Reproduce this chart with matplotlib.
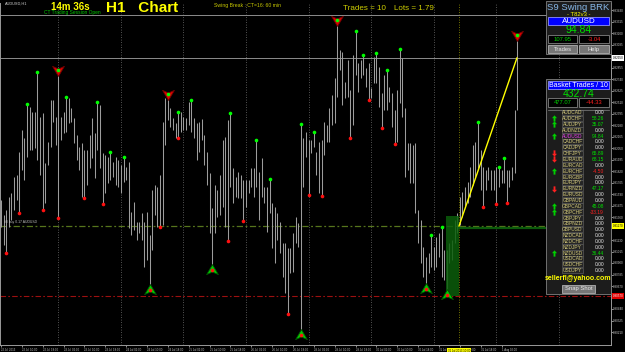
import matplotlib
matplotlib.use("Agg")
import matplotlib.pyplot as plt
import numpy as np
from matplotlib.path import Path
from matplotlib.patches import Rectangle

plt.rcParams['font.family'] = ['Liberation Sans', 'DejaVu Sans']

# AUDUSD H1 bars (high / low), 22 Jul - 1 Aug 2013
high = [0.9153, 0.9138, 0.9143, 0.9156, 0.9160, 0.9176, 0.9178, 0.9201, 0.9223, 0.9215,
        0.9249, 0.9246, 0.9241, 0.9241, 0.9281, 0.9236, 0.9240, 0.9190, 0.9211, 0.9253,
        0.9253, 0.9236, 0.9283, 0.9236, 0.9241, 0.9256, 0.9255, 0.9245, 0.9235, 0.9218,
        0.9206, 0.9210, 0.9203, 0.9203, 0.9218, 0.9235, 0.9220, 0.9251, 0.9248, 0.9200,
        0.9198, 0.9196, 0.9201, 0.9191, 0.9196, 0.9193, 0.9188, 0.9196, 0.9186, 0.9191,
        0.9141, 0.9151, 0.9131, 0.9131, 0.9140, 0.9131, 0.9141, 0.9118, 0.9163, 0.9168,
        0.9166, 0.9178, 0.9231, 0.9255, 0.9259, 0.9245, 0.9235, 0.9230, 0.9241, 0.9241,
        0.9236, 0.9235, 0.9251, 0.9253, 0.9235, 0.9230, 0.9231, 0.9234, 0.9218, 0.9201,
        0.9180, 0.9145, 0.9168, 0.9163, 0.9178, 0.9213, 0.9216, 0.9233, 0.9240, 0.9185,
        0.9176, 0.9181, 0.9178, 0.9173, 0.9173, 0.9173, 0.9185, 0.9185, 0.9213, 0.9181,
        0.9195, 0.9166, 0.9166, 0.9174, 0.9150, 0.9146, 0.9140, 0.9131, 0.9110, 0.9110,
        0.9105, 0.9105, 0.9120, 0.9136, 0.9130, 0.9229, 0.9215, 0.9221, 0.9213, 0.9213,
        0.9221, 0.9201, 0.9211, 0.9213, 0.9231, 0.9228, 0.9245, 0.9258, 0.9275, 0.9333,
        0.9303, 0.9301, 0.9271, 0.9293, 0.9263, 0.9298, 0.9322, 0.9290, 0.9293, 0.9298,
        0.9285, 0.9290, 0.9265, 0.9296, 0.9300, 0.9286, 0.9260, 0.9278, 0.9283, 0.9266,
        0.9260, 0.9243, 0.9263, 0.9304, 0.9295, 0.9245, 0.9210, 0.9210, 0.9208, 0.9210,
        0.9143, 0.9133, 0.9106, 0.9096, 0.9100, 0.9118, 0.9106, 0.9116, 0.9120, 0.9126,
        0.9103, 0.9103, 0.9110, 0.9113, 0.9133, 0.9140, 0.9156, 0.9161, 0.9166, 0.9171,
        0.9186, 0.9208, 0.9211, 0.9231, 0.9203, 0.9186, 0.9183, 0.9186, 0.9183, 0.9183,
        0.9186, 0.9186, 0.9183, 0.9195, 0.9183, 0.9183, 0.9186, 0.9243, 0.9318]
low = [0.9126, 0.9108, 0.9100, 0.9126, 0.9133, 0.9143, 0.9153, 0.9140, 0.9183, 0.9173,
       0.9196, 0.9203, 0.9203, 0.9205, 0.9193, 0.9178, 0.9143, 0.9150, 0.9188, 0.9206,
       0.9231, 0.9208, 0.9135, 0.9213, 0.9220, 0.9221, 0.9230, 0.9231, 0.9210, 0.9193,
       0.9183, 0.9156, 0.9155, 0.9168, 0.9185, 0.9195, 0.9175, 0.9203, 0.9185, 0.9149,
       0.9160, 0.9170, 0.9173, 0.9176, 0.9168, 0.9166, 0.9160, 0.9171, 0.9173, 0.9125,
       0.9118, 0.9123, 0.9113, 0.9120, 0.9113, 0.9086, 0.9093, 0.9063, 0.9103, 0.9138,
       0.9126, 0.9126, 0.9128, 0.9208, 0.9233, 0.9226, 0.9223, 0.9215, 0.9215, 0.9221,
       0.9223, 0.9223, 0.9228, 0.9221, 0.9215, 0.9193, 0.9201, 0.9213, 0.9188, 0.9168,
       0.9120, 0.9083, 0.9120, 0.9136, 0.9138, 0.9146, 0.9126, 0.9112, 0.9166, 0.9150,
       0.9156, 0.9155, 0.9155, 0.9132, 0.9146, 0.9160, 0.9166, 0.9156, 0.9166, 0.9133,
       0.9156, 0.9150, 0.9121, 0.9140, 0.9105, 0.9090, 0.9113, 0.9100, 0.9076, 0.9060,
       0.9039, 0.9080, 0.9081, 0.9110, 0.9106, 0.9018, 0.9166, 0.9196, 0.9158, 0.9200,
       0.9206, 0.9178, 0.9160, 0.9157, 0.9198, 0.9211, 0.9211, 0.9228, 0.9230, 0.9256,
       0.9283, 0.9248, 0.9255, 0.9256, 0.9215, 0.9228, 0.9278, 0.9261, 0.9275, 0.9278,
       0.9266, 0.9253, 0.9255, 0.9270, 0.9270, 0.9246, 0.9225, 0.9243, 0.9243, 0.9251,
       0.9226, 0.9209, 0.9211, 0.9250, 0.9236, 0.9176, 0.9183, 0.9170, 0.9170, 0.9140,
       0.9110, 0.9090, 0.9076, 0.9064, 0.9080, 0.9086, 0.9083, 0.9086, 0.9096, 0.9076,
       0.9073, 0.9058, 0.9090, 0.9093, 0.9110, 0.9120, 0.9128, 0.9136, 0.9146, 0.9150,
       0.9156, 0.9168, 0.9175, 0.9185, 0.9163, 0.9146, 0.9163, 0.9173, 0.9163, 0.9163,
       0.9149, 0.9166, 0.9170, 0.9170, 0.9150, 0.9166, 0.9173, 0.9180, 0.9243]

swing_high_bars = [10, 14, 22, 25, 37, 42, 47, 64, 68, 73, 88, 98, 103, 115, 120, 129,
                   136, 139, 144, 148, 153, 165, 169, 183, 191, 193, 198]
swing_low_bars = [2, 7, 16, 22, 32, 39, 57, 61, 68, 81, 87, 93, 110, 115, 118, 123, 134,
                  141, 146, 151, 163, 171, 185, 190, 194]
sell_arrow_bars = [22, 64, 129, 198]
buy_arrow_bars = [57, 81, 115, 163, 171]

time_labels = ['22 Jul 2013', '22 Jul 10:00', '22 Jul 18:00', '23 Jul 02:00', '23 Jul 10:00',
               '23 Jul 18:00', '24 Jul 02:00', '24 Jul 10:00', '24 Jul 18:00', '25 Jul 02:00',
               '25 Jul 10:00', '25 Jul 18:00', '26 Jul 02:00', '26 Jul 10:00', '26 Jul 18:00',
               '29 Jul 02:00', '29 Jul 10:00', '29 Jul 18:00', '30 Jul 02:00', '30 Jul 10:00',
               '30 Jul 18:00', '31 Jul 02:00', '31 Jul 10:00', '31 Jul 18:00', '1 Aug 02:00']

entry_price = 0.9127
stop_price = 0.9057
target_price = 0.9295
upper_line = 0.9338
box_top = 0.9137
box_start = 170.7
trade_bar = 175.7
target_bar = 197.9

pairs = ['AUDCAD', 'AUDCHF', 'AUDJPY', 'AUDNZD', 'AUDUSD', 'CADCHF', 'CADJPY', 'CHFJPY',
         'EURAUD', 'EURCAD', 'EURCHF', 'EURGBP', 'EURJPY', 'EURNZD', 'EURUSD', 'GBPAUD',
         'GBPCAD', 'GBPCHF', 'GBPJPY', 'GBPNZD', 'GBPUSD', 'NZDCAD', 'NZDCHF', 'NZDJPY',
         'NZDUSD', 'USDCAD', 'USDCHF', 'USDJPY']
pair_pl = [0.00, 58.26, 35.07, 0.00, 94.84, 0.00, 0.00, 65.89, 68.15, 0.00, -4.50, 0.00,
           0.00, 47.17, 0.00, 0.00, 45.08, -33.19, 0.00, 0.00, 0.00, 0.00, 0.00, 0.00,
           36.44, 0.00, 0.00, 0.00]
pair_signal = [0, 1, 1, 0, 1, 0, 0, -1, -1, 0, 1, 0, 0, -1, 0, 0, 1, 1, 0, 0, 0, 0, 0, 0,
               1, 0, 0, 0]

W, H = 625, 352
fig = plt.figure(figsize=(W / 100, H / 100), dpi=100, facecolor='black')
ax = fig.add_axes([0, 7 / H, 611 / W, 342 / H])
ax.set_facecolor('black')

n = len(high)
x = np.arange(n)
ax.set_xlim(-0.384, 234.0)
ax.set_ylim(0.9008, 0.9350)

# grid (one line per day)
for g in range(22, 234, 24):
    ax.axvline(g, color='#707070', lw=0.6, ls=(0, (1, 2)), zorder=1)
ax.axvline(trade_bar, color='#9a9a00', lw=0.6, ls=(0, (1, 2)), zorder=1)

ax.axhline(upper_line, color='#8c8c8c', lw=0.7, zorder=1)
ax.axhline(target_price, color='#8c8c8c', lw=0.7, zorder=1)
ax.axhline(entry_price, color='#56751c', lw=0.9, ls=(0, (5, 2, 1.5, 2)), zorder=1)
ax.axhline(stop_price, color='#9c1010', lw=0.8, ls=(0, (5, 2, 1.5, 2)), zorder=1)
ax.plot([trade_bar, 209], [entry_price - 0.00015] * 2, color='#0b5a0b', lw=1.6, zorder=2)

ax.vlines(x, low, high, color='#9c9c9c', lw=0.75, zorder=3)

ax.add_patch(Rectangle((box_start, stop_price), trade_bar - box_start, box_top - stop_price,
                       facecolor='#0b5e0b', alpha=0.85, lw=0, zorder=4))
ax.plot([trade_bar, target_bar], [entry_price, target_price], color='#ffff00',
        lw=1.0, zorder=5)

buy_path = Path([(0, 1), (1, -0.7), (0, -0.25), (-1, -0.7), (0, 1)],
                [Path.MOVETO, Path.LINETO, Path.LINETO, Path.LINETO, Path.CLOSEPOLY])
sell_path = Path([(0, -1), (1, 0.7), (0, 0.25), (-1, 0.7), (0, -1)],
                 [Path.MOVETO, Path.LINETO, Path.LINETO, Path.LINETO, Path.CLOSEPOLY])
ax.plot(buy_arrow_bars, [low[i] for i in buy_arrow_bars], ls='none', marker=buy_path,
        ms=8.5, mfc='#00d000', mec='#005000', mew=0.6, zorder=6)
ax.plot(sell_arrow_bars, [high[i] for i in sell_arrow_bars], ls='none', marker=sell_path,
        ms=8.5, mfc='#e00000', mec='#700000', mew=0.6, zorder=6)
ax.plot(swing_high_bars, [high[i] for i in swing_high_bars], 'o', color='#00ff00', ms=2.6,
        mew=0, zorder=7)
ax.plot(swing_low_bars, [low[i] for i in swing_low_bars], 'o', color='#ff1010', ms=2.6,
        mew=0, zorder=7)

# axes frame and scales
ax.spines['top'].set_visible(False)
for s in ['left', 'bottom', 'right']:
    ax.spines[s].set_color('#9a9a9a')
    ax.spines[s].set_linewidth(0.7)
ax.set_xticks(np.arange(0, 8 * len(time_labels), 8))
ax.set_xticklabels(time_labels)
for lbl in ax.get_xticklabels():
    lbl.set_ha('left')
ax.tick_params(axis='x', colors='#c8c8c8', labelsize=2.0, length=1.5, width=0.5, pad=1)
ax.yaxis.tick_right()
specials = [entry_price, stop_price, target_price]
yt = [v for v in np.arange(0.9021, 0.9345, 0.00115)
      if min(abs(v - s) for s in specials) > 0.0005]
ax.set_yticks(yt)
ax.set_yticklabels(['%.5f' % v for v in yt])
ax.tick_params(axis='y', colors='#c8c8c8', labelsize=2.2, length=1.2, width=0.5, pad=0.3)

yx = ax.get_yaxis_transform()
ax.text(1.003, entry_price, '%.5f' % entry_price, transform=yx, fontsize=2.2, color='black',
        va='center', ha='left', bbox=dict(fc='#ffff00', ec='none', pad=0.5), zorder=9)
ax.text(1.003, stop_price, '%.5f' % stop_price, transform=yx, fontsize=2.2, color='white',
        va='center', ha='left', bbox=dict(fc='#e00000', ec='none', pad=0.5), zorder=9)
ax.text(1.003, target_price, '%.5f' % target_price, transform=yx, fontsize=2.2, color='black',
        va='center', ha='left', bbox=dict(fc='#ffffff', ec='none', pad=0.5), zorder=9)
ax.text(trade_bar, -0.012, '31 Jul 2013 10:00', transform=ax.get_xaxis_transform(),
        fontsize=2.0, color='black', ha='center', va='top',
        bbox=dict(fc='#ffff00', ec='none', pad=0.8), zorder=9)
ax.text(1, entry_price + 0.0002, '#8 buy 0.17 AUDUSD', fontsize=2.4, color='#c0c0c0',
        va='bottom', ha='left', zorder=9)

# overlay in pixel coordinates for labels and panels
ov = fig.add_axes([0, 0, 1, 1])
ov.set_xlim(0, W)
ov.set_ylim(H, 0)
ov.axis('off')
ov.patch.set_alpha(0)


def box(x0, y0, x1, y1, fc, ec='#808080', lw=0.6):
    ov.add_patch(Rectangle((x0, y0), x1 - x0, y1 - y0, facecolor=fc, edgecolor=ec, lw=lw))


def txt(xp, yp, s, size, color, ha='center', weight='normal'):
    ov.text(xp, yp, s, fontsize=size, color=color, ha=ha, va='center', fontweight=weight)


txt(5, 3.5, 'AUDUSD,H1', 2.8, '#d0d0d0', ha='left')
txt(70, 6.5, '14m 36s', 7, '#ffff00', weight='bold')
txt(72, 12.8, 'CT Trading Session Open', 3.5, '#00c800')
txt(142, 8.5, 'H1   Chart', 11, '#ffff00', weight='bold')
txt(248, 5.5, 'Swing Break : CT=16: 60 min', 3.7, '#c8c800')
txt(364, 8, 'Trades = 10', 5.8, '#d0d000')
txt(414, 8, 'Lots = 1.79', 5.8, '#d0d000')

# info panel
box(546, 1, 611, 54, '#1c1c1c')
txt(578.5, 7.5, 'S9 Swing BRK', 6.8, '#86b6e6')
txt(578.5, 14, '- T82v3 -', 4.2, '#ffff00')
box(548, 17, 609, 25, '#0000ff', ec='#9090ff')
txt(578.5, 21.2, 'AUDUSD', 5.8, 'white')
txt(578.5, 30, '94.84', 7.5, '#00e000')
box(548, 35, 577, 43, 'black')
box(579, 35, 609, 43, 'black')
txt(562.5, 39.2, '107.95', 4.2, '#00d000')
txt(594, 39.2, '-3.04', 4.2, '#ff2020')
box(548, 45, 577, 53, '#767676', ec='#b0b0b0')
box(579, 45, 609, 53, '#767676', ec='#b0b0b0')
txt(562.5, 49.2, 'Trades', 4.2, '#e8e8e8')
txt(594, 49.2, 'Help', 4.2, '#e8e8e8')

# basket panel
box(546, 79, 611, 294, '#1c1c1c')
box(548, 81, 609, 89, '#0000ff', ec='#9090ff')
txt(578.5, 85.2, 'Basket Trades / 10', 5.0, 'white')
txt(578.5, 94, '432.74', 7.5, '#00e000')
box(548, 98, 577, 107, 'black')
box(579, 98, 609, 107, 'black')
txt(562.5, 102.7, '477.07', 4.2, '#00d000')
txt(594, 102.7, '-44.33', 4.2, '#ff2020')
ov.plot([548, 609], [109.5, 109.5], color='#707070', lw=0.6)

up_path = Path([(0, 1), (0.8, 0.1), (0.3, 0.1), (0.3, -1), (-0.3, -1), (-0.3, 0.1),
                (-0.8, 0.1), (0, 1)])
down_path = Path([(0, -1), (0.8, -0.1), (0.3, -0.1), (0.3, 1), (-0.3, 1), (-0.3, -0.1),
                  (-0.8, -0.1), (0, -1)])
for k, (p, v, sig) in enumerate(zip(pairs, pair_pl, pair_signal)):
    yp = 112.5 + 5.85 * k
    box(562, yp - 2.7, 583, yp + 2.7, '#262626', ec='#5a5a5a', lw=0.5)
    txt(572.5, yp + 0.2, p, 3.5, '#e040e0' if p == 'AUDUSD' else '#d2c878')
    col = '#00e000' if v > 0 else ('#ff2020' if v < 0 else '#e8e8e8')
    txt(604, yp + 0.2, '%.2f' % v, 3.5, col, ha='right')
    if sig > 0:
        ov.plot(554, yp, marker=up_path, ms=4.5, color='#00d000', mew=0)
    elif sig < 0:
        ov.plot(554, yp, marker=down_path, ms=4.5, color='#ff2020', mew=0)

txt(578.5, 279, 'sellerfl@yahoo.com', 5.0, '#ffff00', weight='bold')
box(562, 284.5, 595, 292.5, '#767676', ec='#b0b0b0')
txt(578.5, 288.7, 'Snap Shot', 4.2, '#e8e8e8')

fig.savefig('out.png', dpi=100, facecolor='black')
